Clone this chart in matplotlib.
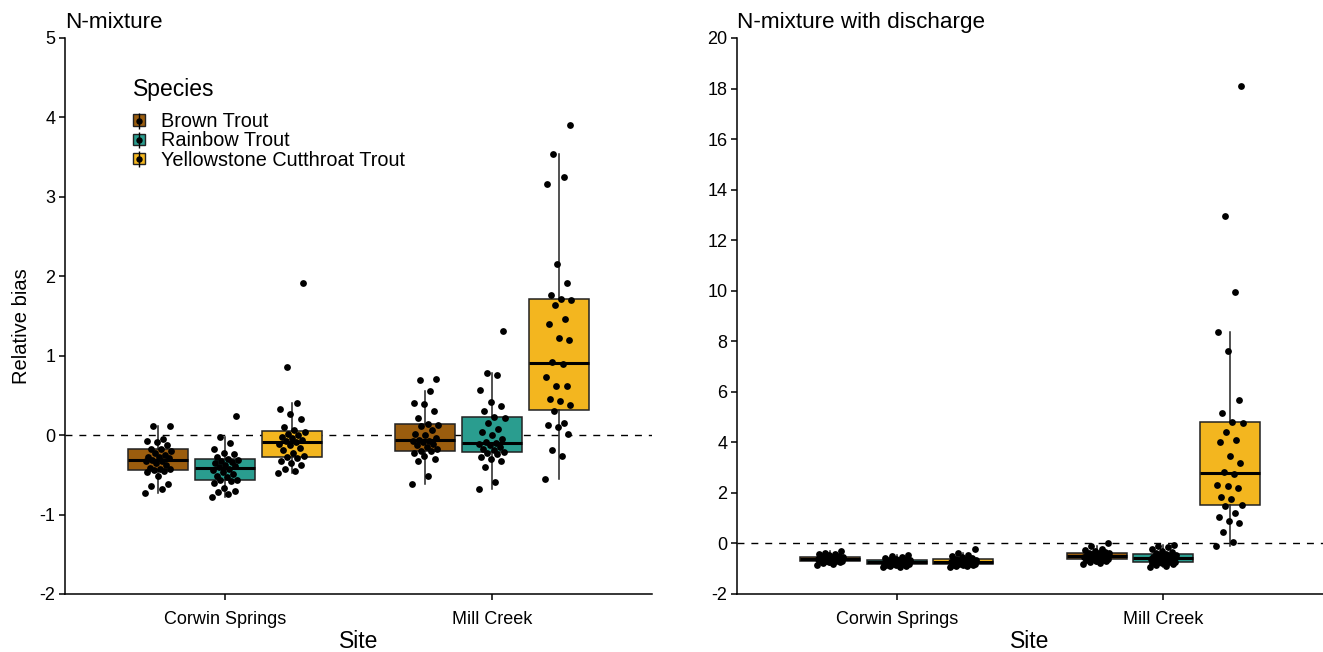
import matplotlib
matplotlib.use('Agg')
import matplotlib.pyplot as plt
from matplotlib.legend_handler import HandlerTuple
from matplotlib.lines import Line2D
from matplotlib.patches import Patch
import numpy as np

plt.rcParams['font.family'] = ['Liberation Sans', 'DejaVu Sans']

sites = ['Corwin Springs', 'Mill Creek']
species = ['Brown Trout', 'Rainbow Trout', 'Yellowstone Cutthroat Trout']
colors = ['#9B5D0E', '#2A9D8F', '#F3B61F']

# relative bias, N-mixture model
nmix_cs_brown = [-0.73, -0.68, -0.64, -0.62, -0.51, -0.47, -0.45, -0.44, -0.43, -0.42,
                 -0.41, -0.38, -0.35, -0.33, -0.32, -0.31, -0.29, -0.28, -0.27, -0.25,
                 -0.23, -0.20, -0.17, -0.17, -0.13, -0.09, -0.08, -0.05, 0.11, 0.12]
nmix_cs_rainbow = [-0.78, -0.74, -0.71, -0.70, -0.66, -0.60, -0.58, -0.57, -0.56, -0.53,
                   -0.51, -0.49, -0.47, -0.44, -0.42, -0.40, -0.39, -0.37, -0.35, -0.34,
                   -0.33, -0.31, -0.30, -0.28, -0.24, -0.22, -0.18, -0.10, -0.02, 0.24]
nmix_cs_yct = [-0.48, -0.45, -0.42, -0.38, -0.35, -0.32, -0.29, -0.28, -0.26, -0.22,
               -0.19, -0.16, -0.13, -0.11, -0.09, -0.08, -0.06, -0.04, -0.02, 0.00,
               0.01, 0.04, 0.06, 0.10, 0.20, 0.26, 0.33, 0.41, 0.86, 1.92]
nmix_mc_brown = [-0.61, -0.51, -0.33, -0.30, -0.26, -0.22, -0.20, -0.20, -0.18, -0.15,
                 -0.13, -0.11, -0.09, -0.08, -0.07, -0.06, -0.03, 0.00, 0.02, 0.07,
                 0.12, 0.13, 0.14, 0.22, 0.30, 0.39, 0.40, 0.55, 0.70, 0.71]
nmix_mc_rainbow = [-0.68, -0.59, -0.40, -0.33, -0.30, -0.27, -0.24, -0.22, -0.21, -0.19,
                   -0.17, -0.15, -0.13, -0.11, -0.10, -0.09, -0.05, 0.00, 0.04, 0.08,
                   0.15, 0.22, 0.23, 0.30, 0.37, 0.42, 0.57, 0.76, 0.78, 1.31]
nmix_mc_yct = [-0.55, -0.26, -0.19, 0.02, 0.10, 0.13, 0.15, 0.30, 0.38, 0.43,
               0.45, 0.62, 0.62, 0.73, 0.90, 0.92, 1.20, 1.22, 1.40, 1.46,
               1.64, 1.70, 1.72, 1.76, 1.92, 2.16, 3.16, 3.25, 3.54, 3.90]

# relative bias, N-mixture model with discharge
dis_cs_brown = [-0.85, -0.80, -0.77, -0.74, -0.72, -0.70, -0.69, -0.68, -0.68, -0.66,
                -0.65, -0.64, -0.63, -0.62, -0.61, -0.59, -0.58, -0.57, -0.56, -0.55,
                -0.54, -0.53, -0.52, -0.50, -0.48, -0.46, -0.43, -0.40, -0.36, -0.30]
dis_cs_rainbow = [-0.95, -0.92, -0.90, -0.88, -0.86, -0.85, -0.83, -0.82, -0.81, -0.80,
                  -0.79, -0.78, -0.77, -0.76, -0.75, -0.73, -0.72, -0.71, -0.70, -0.69,
                  -0.68, -0.67, -0.66, -0.64, -0.62, -0.60, -0.57, -0.53, -0.49, -0.45]
dis_cs_yct = [-0.92, -0.90, -0.88, -0.86, -0.85, -0.84, -0.82, -0.81, -0.80, -0.79,
              -0.78, -0.77, -0.76, -0.74, -0.73, -0.71, -0.70, -0.69, -0.68, -0.67,
              -0.65, -0.64, -0.62, -0.60, -0.58, -0.55, -0.50, -0.45, -0.38, -0.23]
dis_mc_brown = [-0.81, -0.77, -0.74, -0.71, -0.68, -0.66, -0.64, -0.63, -0.62, -0.60,
                -0.58, -0.56, -0.54, -0.52, -0.50, -0.48, -0.47, -0.45, -0.44, -0.42,
                -0.41, -0.39, -0.38, -0.36, -0.33, -0.30, -0.26, -0.20, -0.12, 0.03]
dis_mc_rainbow = [-0.92, -0.88, -0.85, -0.82, -0.79, -0.77, -0.75, -0.73, -0.72, -0.70,
                  -0.68, -0.66, -0.64, -0.62, -0.60, -0.58, -0.56, -0.54, -0.52, -0.50,
                  -0.47, -0.44, -0.42, -0.38, -0.33, -0.28, -0.22, -0.16, -0.10, -0.06]
dis_mc_yct = [-0.09, 0.07, 0.44, 0.82, 0.89, 1.05, 1.19, 1.50, 1.52, 1.75,
              1.83, 2.20, 2.28, 2.30, 2.76, 2.84, 3.17, 3.45, 4.00, 4.10,
              4.40, 4.75, 4.80, 5.16, 5.69, 7.63, 8.36, 9.94, 12.97, 18.10]

panels = [
    ('N-mixture',
     [[nmix_cs_brown, nmix_cs_rainbow, nmix_cs_yct],
      [nmix_mc_brown, nmix_mc_rainbow, nmix_mc_yct]],
     (-2, 5), np.arange(-2, 6, 1)),
    ('N-mixture with discharge',
     [[dis_cs_brown, dis_cs_rainbow, dis_cs_yct],
      [dis_mc_brown, dis_mc_rainbow, dis_mc_yct]],
     (-2, 20), np.arange(-2, 21, 2)),
]


def draw_panel(ax, title, groups, ylim, yticks):
    ax.axhline(0, color='black', lw=1.0, ls=(0, (5, 5)), zorder=1)
    for i, site_groups in enumerate(groups):
        for j, vals in enumerate(site_groups):
            x = i + (j - 1) * 0.25
            ax.boxplot(vals, positions=[x], widths=0.225, patch_artist=True,
                       showfliers=False, showcaps=False, manage_ticks=False,
                       boxprops=dict(facecolor=colors[j], edgecolor='#222222', lw=1.1),
                       medianprops=dict(color='black', lw=2.2),
                       whiskerprops=dict(color='#222222', lw=1.1), zorder=2)
            # spread points sideways like geom_jitter
            jit = ((np.arange(len(vals)) * 0.618034) % 1 - 0.5) * 0.1
            ax.scatter(x + jit, vals, s=24, color='black', lw=0, zorder=3)

    ax.set_xlim(-0.6, 1.6)
    ax.set_ylim(*ylim)
    ax.set_yticks(yticks)
    ax.set_yticklabels([str(t) for t in yticks])
    ax.set_xticks(range(len(sites)))
    ax.set_xticklabels(sites)
    ax.set_xlabel('Site', fontsize=16.5, labelpad=1.5)
    ax.set_title(title, loc='left', fontsize=16.2, pad=7)
    for s in ['top', 'right']:
        ax.spines[s].set_visible(False)
    for s in ['left', 'bottom']:
        ax.spines[s].set_linewidth(1.1)
    ax.tick_params(direction='out', length=4, width=1.1, labelsize=13,
                   colors='black')
    ax.tick_params(axis='x', pad=8.5)
    ax.tick_params(axis='y', pad=3)


fig = plt.figure(figsize=(13.23, 6.52), dpi=100)
ax1 = fig.add_axes([65 / 1323, 58 / 652, 587 / 1323, 556 / 652])
ax2 = fig.add_axes([737 / 1323, 58 / 652, 586 / 1323, 556 / 652])

for ax, (title, groups, ylim, yticks) in zip([ax1, ax2], panels):
    draw_panel(ax, title, groups, ylim, yticks)

ax1.set_ylabel('Relative bias', fontsize=14.5, labelpad=6)
ax1.yaxis.label.set_y(0.482)

handles = [(Patch(facecolor=c, edgecolor='#222222', lw=1),
            Line2D([], [], color='black', marker='|', ms=11.5, ls='none'),
            Line2D([], [], color='black', marker='o', ms=3.6, ls='none'))
           for c in colors]
ax1.text(0.116, 0.8957, 'Species', transform=ax1.transAxes, fontsize=16.5,
         ha='left', va='baseline')
ax1.legend(handles, species, handler_map={tuple: HandlerTuple(ndivide=1, pad=0)},
           loc='upper left', bbox_to_anchor=(0.116, 0.867), frameon=False,
           fontsize=14.3, handlelength=0.62, handleheight=0.5, handletextpad=0.8,
           labelspacing=0.02, borderpad=0, borderaxespad=0)

fig.savefig('out.png', dpi=100)
